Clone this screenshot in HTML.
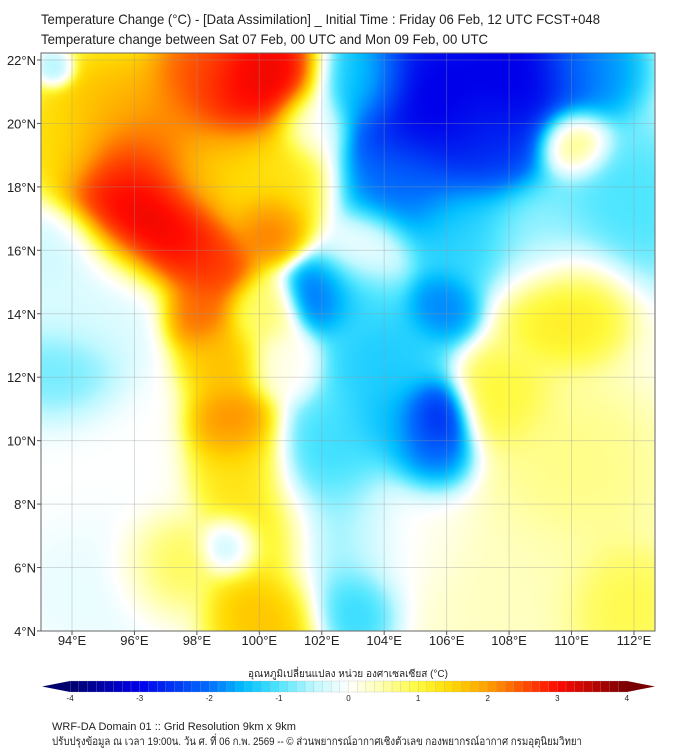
<!DOCTYPE html>
<html><head><meta charset="utf-8">
<style>
html,body{margin:0;padding:0;background:#fff;width:676px;height:756px;overflow:hidden}
svg text{font-family:"Liberation Sans","DejaVu Sans",sans-serif;fill:#222}
#map{position:absolute;left:41px;top:53px}
</style></head><body>
<canvas id="map" width="614" height="578"></canvas>
<svg id="s" width="676" height="756" style="position:absolute;left:0;top:0">
<text x="41" y="24" font-size="14" textLength="559" lengthAdjust="spacingAndGlyphs">Temperature Change (°C) - [Data Assimilation] _ Initial Time : Friday 06 Feb, 12 UTC FCST+048</text>
<text x="41" y="44" font-size="14" textLength="447" lengthAdjust="spacingAndGlyphs">Temperature change between Sat 07 Feb, 00 UTC and Mon 09 Feb, 00 UTC</text>
<g id="grid"></g>
<rect x="41" y="53" width="614" height="578" fill="none" stroke="#666" stroke-width="1"/>
<g id="axes"></g>
<text x="348" y="677" font-size="10" text-anchor="middle">อุณหภูมิเปลี่ยนแปลง หน่วย องศาเซลเซียส (°C)</text>
<g id="cbar"></g>
<text x="52" y="730" font-size="11">WRF-DA Domain 01 :: Grid Resolution 9km x 9km</text>
<text x="52" y="745" font-size="11" textLength="530" lengthAdjust="spacingAndGlyphs">ปรับปรุงข้อมูล ณ เวลา 19:00น. วัน ศ. ที่ 06 ก.พ. 2569 -- © ส่วนพยากรณ์อากาศเชิงตัวเลข กองพยากรณ์อากาศ กรมอุตุนิยมวิทยา</text>
</svg>
<script>
const lonTicks=[94,96,98,100,102,104,106,108,110,112];
const latTicks=[4,6,8,10,12,14,16,18,20,22];
const cbTicks=[-4,-3,-2,-1,0,1,2,3,4];
// field samples: lon, lat, influence radius (deg), value (degC)
const blobLon=[96.2,95.8,97.5,96.8,95.2,93.8,99.2,100.5,98.0,98.5,100.5,100.3,98.5,98.1,98.9,99.1,99.3,100.2,100.2,100.1,96.8,
 93.5,93.7,94.5,94.5,95.0,99.2,
 105.5,108.5,107.5,104.5,106.5,103.2,110.5,111.5,109.0,110.0,102.0,103.2,105.8,104.0,105.6,105.5,104.5,102.5,102.5,103.0,103.5,
 109.8,107.7,110.0,111.5,108.0,104.8,101.7,100.7,93.5];
const blobLat=[17.1,18.5,16.5,19.8,20.5,19.5,21.0,21.6,21.5,18.5,18.3,16.8,15.5,14.0,12.5,10.5,9.0,7.0,4.6,14.0,6.2,
 21.7,12.0,14.5,9.0,6.0,6.7,
 20.5,21.4,19.5,18.0,16.5,21.3,21.7,17.5,16.5,19.4,14.6,14.8,14.3,12.5,10.7,9.5,10.5,9.5,7.0,4.8,16.0,
 14.3,11.3,9.0,4.8,5.5,7.2,20.0,12.5,15.8];
const blobSpread=[1.0,1.0,0.8,1.0,1.0,0.8,1.0,0.8,0.8,1.0,1.0,0.6,0.7,0.6,0.7,0.7,0.8,0.9,0.9,0.6,0.8,
 0.3,0.9,1.2,1.5,1.2,0.5,
 1.5,1.2,1.0,1.0,1.0,0.8,0.9,1.3,1.0,0.6,0.6,0.8,0.6,1.0,0.6,0.7,0.8,1.0,1.2,0.7,0.7,
 1.0,0.8,1.5,1.0,1.5,1.2,0.6,0.6,0.7];
const blobVal=[3.5,3.0,3.2,2.2,1.8,1.5,3.3,3.3,2.5,1.6,1.4,2.5,2.8,2.5,1.8,2.3,1.4,1.6,1.8,0.8,1.1,
 -0.8,-1.0,-0.3,0.0,-0.2,-1.2,
 -3.3,-3.3,-2.6,-2.0,-1.3,-1.2,-1.8,-1.1,-0.7,1.5,-2.2,-1.2,-2.0,-1.4,-3.2,-2.4,-1.6,-1.2,-0.8,-1.3,0.2,
 1.3,1.1,0.7,1.0,0.4,0.1,0.0,0.1,-0.4];
const X=lon=>72+(lon-94)*31.22, Y=lat=>60+(22-lat)*31.72;
const NS='http://www.w3.org/2000/svg';
function mk(t,a,p){const e=document.createElementNS(NS,t);for(const k in a)e.setAttribute(k,a[k]);p.appendChild(e);return e;}
const stops=[[-4,[0,0,110]],[-3,[0,0,235]],[-2,[0,110,255]],[-1.5,[0,190,255]],[-1,[80,230,255]],[-0.5,[190,248,255]],[0,[255,255,255]],[0.5,[255,255,170]],[1,[255,250,60]],[1.5,[255,215,0]],[2,[255,160,0]],[2.5,[255,80,0]],[3,[255,10,0]],[4,[120,0,0]]];
function cmap(v){if(v<=-4)return stops[0][1];if(v>=4)return stops[stops.length-1][1];
 for(let i=0;i<stops.length-1;i++){const a=stops[i],b=stops[i+1];if(v<=b[0]){const t=(v-a[0])/(b[0]-a[0]);return [0,1,2].map(j=>a[1][j]+(b[1][j]-a[1][j])*t);}}}
const cv=document.getElementById('map'),cx=cv.getContext('2d'),W=614,H=578,img=cx.createImageData(W,H);
const bx=blobLon.map(l=>X(l)-41),by=blobLat.map(l=>Y(l)-53),bs=blobSpread.map(s=>s*31.4);
for(let y=0;y<H;y++)for(let x=0;x<W;x++){let sw=0.08,sv=0;
 for(let i=0;i<bx.length;i++){const dx=x-bx[i],dy=y-by[i];const w=Math.exp(-(dx*dx+dy*dy)/(2*bs[i]*bs[i]));sw+=w;sv+=w*blobVal[i];}
 const c=cmap(sv/sw),o=(y*W+x)*4;img.data[o]=c[0];img.data[o+1]=c[1];img.data[o+2]=c[2];img.data[o+3]=255;}
cx.putImageData(img,0,0);
const g=document.getElementById('grid'),ax=document.getElementById('axes');
lonTicks.forEach(l=>{const x=X(l);
 const ln=mk('line',{x1:x,x2:x,y1:53,y2:631,stroke:'#999','stroke-opacity':0.35,'stroke-width':1},g);
 
 const tk=mk('line',{x1:x,x2:x,y1:631,y2:635,stroke:'#555'},ax);
 
 const t=mk('text',{x:x,y:645,'font-size':13,'text-anchor':'middle'},ax);t.textContent=l+'°E';
 });
latTicks.forEach(l=>{const y=Y(l);
 const ln=mk('line',{x1:41,x2:655,y1:y,y2:y,stroke:'#999','stroke-opacity':0.35,'stroke-width':1},g);
 
 const tk=mk('line',{x1:37,x2:41,y1:y,y2:y,stroke:'#555'},ax);
 
 const t=mk('text',{x:36,y:y+5,'font-size':13,'text-anchor':'end'},ax);t.textContent=l+'°N';
 });
const cb=document.getElementById('cbar'),C=v=>348.5+v*69.6,y0=681,h=11;
const n=64;for(let i=0;i<n;i++){const v0=-4+8*i/n,v1=-4+8*(i+1)/n,c=cmap((v0+v1)/2);
 const r=mk('rect',{x:C(v0),y:y0,width:C(v1)-C(v0)+0.3,height:h,fill:`rgb(${c.map(Math.round)})`,stroke:'#aaa','stroke-width':0.25},cb);
 }
const lt=mk('polygon',{points:`${C(-4)},${y0} ${C(-4)},${y0+h} 42,${y0+h/2}`,fill:'rgb(0,0,110)'},cb);

const rt=mk('polygon',{points:`${C(4)},${y0} ${C(4)},${y0+h} 655,${y0+h/2}`,fill:'rgb(120,0,0)'},cb);

cbTicks.forEach(v=>{const t=mk('text',{x:C(v),y:701,'font-size':8,'text-anchor':'middle'},cb);t.textContent=v;
 });
</script>
</body></html>
